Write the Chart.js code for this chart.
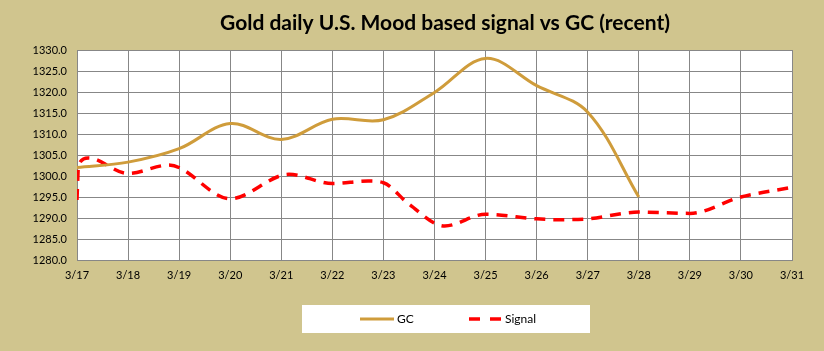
<!DOCTYPE html>
<html>
<head>
<meta charset="utf-8">
<script src="https://cdn.jsdelivr.net/npm/chart.js@4/dist/chart.umd.min.js"></script>
<style>
  html, body { margin: 0; padding: 0; background: #d0c58e; }
  #wrap { width: 824px; height: 351px; }
</style>
</head>
<body>
<div id="wrap"><canvas id="goldChart" width="824" height="351"></canvas></div>
<script>
// chart data
const chartTitle = 'Gold daily U.S. Mood based signal vs GC (recent)'
const dayLabels = ['3/17','3/18','3/19','3/20','3/21','3/22','3/23','3/24','3/25','3/26','3/27','3/28','3/29','3/30','3/31']
const yTicks = [1280, 1285, 1290, 1295, 1300, 1305, 1310, 1315, 1320, 1325, 1330]

// GC, one value per day (ends 3/28)
const gcDays = [17, 18, 19, 20, 21, 22, 23, 24, 25, 26, 27, 28]
const gcValues = [1302.0, 1303.3, 1306.5, 1312.5, 1308.7, 1313.5, 1313.4, 1319.9, 1328.0, 1321.5, 1315.2, 1295.0]

// signal, irregular times
const signalDays = [17, 17.03, 17.22, 18, 18.8, 20, 21.15, 22, 22.7, 23, 23.5, 24.2, 25, 26, 26.4, 27, 28, 29, 30, 31]
const signalValues = [1294.3, 1302.6, 1304.3, 1300.6, 1302.6, 1294.6, 1300.4, 1298.2, 1298.8, 1298.4, 1293.3, 1288.1, 1290.9, 1289.8, 1289.6, 1289.8, 1291.4, 1291.1, 1295.0, 1297.3]

const gcColor = '#cf9c3b'
const signalColor = '#ff0000'
const gridColor = '#878787'
const bgColor = '#d0c58e'

function toPoints(xs, ys) {
        return xs.map(function(x, i) { return { x: x, y: ys[i] } })
}

// background + white plot area
const backdrop = {
        id: 'backdrop',
        beforeDraw(chart) {
                const ctx = chart.ctx
                const a = chart.chartArea
                ctx.save()
                ctx.fillStyle = bgColor
                ctx.fillRect(0, 0, chart.width, chart.height)
                ctx.fillStyle = '#ffffff'
                ctx.fillRect(a.left, a.top, a.right - a.left, a.bottom - a.top)
                ctx.restore()
        }
}

// title and the white legend box at the bottom
const titleAndKey = {
        id: 'titleAndKey',
        afterDraw(chart) {
                const ctx = chart.ctx
                ctx.save()
                ctx.fillStyle = '#000000'
                ctx.font = 'bold 21px Lato'
                ctx.textAlign = 'center'
                ctx.textBaseline = 'middle'
                ctx.fillText(chartTitle, 445, 23)

                ctx.fillStyle = '#ffffff'
                ctx.fillRect(302, 305, 288, 28)

                const sets = chart.data.datasets
                const keys = [{ x: 360, tx: 397 }, { x: 469, tx: 505 }]
                ctx.font = '12px Lato'
                ctx.textAlign = 'left'
                sets.forEach(function(ds, i) {
                        const k = keys[i]
                        ctx.beginPath()
                        ctx.strokeStyle = ds.borderColor
                        ctx.lineWidth = ds.borderWidth
                        ctx.setLineDash(ds.borderDash ? [11, 10] : [])
                        ctx.moveTo(k.x, 319)
                        ctx.lineTo(k.x + 34, 319)
                        ctx.stroke()
                        ctx.setLineDash([])
                        ctx.fillStyle = '#000000'
                        ctx.fillText(ds.label, k.tx, 319)
                })
                ctx.restore()
        }
}

const ctx = document.getElementById('goldChart')

const goldChart = new Chart(ctx, {
        type: 'line',
        data: {
                datasets: [{
                        label: 'GC',
                        data: toPoints(gcDays, gcValues),
                        borderColor: gcColor,
                        borderWidth: 3,
                        tension: 0.35,
                        pointRadius: 0
                }, {
                        label: 'Signal',
                        data: toPoints(signalDays, signalValues),
                        borderColor: signalColor,
                        borderWidth: 3.5,
                        borderDash: [11, 8],
                        cubicInterpolationMode: 'monotone',
                        pointRadius: 0
                }]
        },
        options: {
                responsive: false,
                animation: false,
                layout: {
                        padding: { top: 50, right: 32, bottom: 61, left: 0 }
                },
                scales: {
                        x: {
                                type: 'linear',
                                min: 17,
                                max: 31,
                                afterFit: function(scale) { scale.height = 30 },
                                afterBuildTicks: function(scale) {
                                        scale.ticks = dayLabels.map(function(l, i) { return { value: 17 + i } })
                                },
                                grid: { color: gridColor, drawTicks: false },
                                border: { color: gridColor },
                                ticks: {
                                        padding: 9,
                                        maxRotation: 0,
                                        autoSkip: false,
                                        color: '#000000',
                                        font: { family: 'Lato', size: 11 },
                                        callback: function(v) { return dayLabels[Math.round(v) - 17] }
                                }
                        },
                        y: {
                                min: 1280,
                                max: 1330,
                                afterFit: function(scale) { scale.width = 77 },
                                afterBuildTicks: function(scale) {
                                        scale.ticks = yTicks.map(function(v) { return { value: v } })
                                },
                                grid: { color: gridColor, drawTicks: false },
                                border: { color: gridColor },
                                ticks: {
                                        padding: 10,
                                        color: '#000000',
                                        font: { family: 'Lato', size: 11 },
                                        callback: function(v) { return v.toFixed(1) }
                                }
                        }
                },
                plugins: {
                        legend: { display: false },
                        title: { display: false },
                        tooltip: { enabled: false }
                }
        },
        plugins: [backdrop, titleAndKey]
})
</script>
</body>
</html>
